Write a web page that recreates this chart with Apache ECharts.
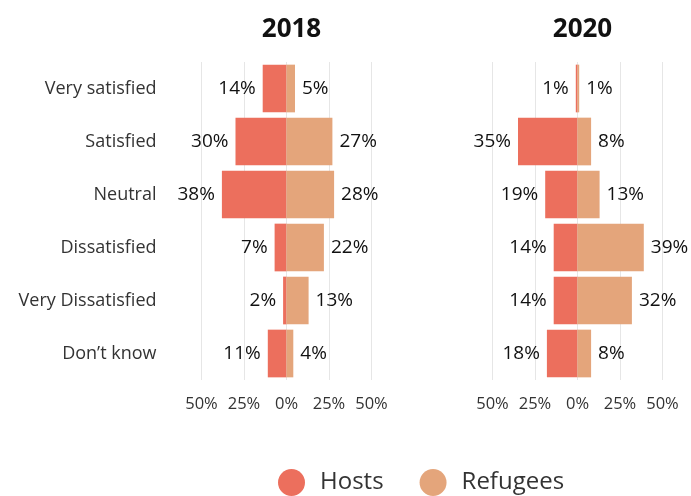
<!DOCTYPE html>
<html>
<head>
<meta charset="utf-8">
<script src="https://cdn.jsdelivr.net/npm/echarts@6/dist/echarts.min.js"></script>
<style>
html, body { margin: 0; padding: 0; background: #fff; }
#chart { width: 691px; height: 496px; }
</style>
</head>
<body>
<div id="chart"></div>
<script>
const categories = ['Very satisfied', 'Satisfied', 'Neutral', 'Dissatisfied', 'Very Dissatisfied', 'Don\u2019t know']
const years = ['2018', '2020']
const hosts2018 = [14, 30, 38, 7, 2, 11]
const refugees2018 = [5, 27, 28, 22, 13, 4]
const hosts2020 = [1, 35, 19, 14, 14, 18]
const refugees2020 = [1, 8, 13, 39, 32, 8]

const hostColor = '#EC6F5D'
const refColor = '#E4A57B'
const font = '"Open Sans", "Noto Sans", sans-serif'

const chart = echarts.init(document.getElementById('chart'))

const grids = [
    { left: 201.5, width: 170, top: 62, height: 318 },
    { left: 492.5, width: 170, top: 62, height: 318 },
]

const xAxisFor = (i) => ({
    type: 'value',
    gridIndex: i,
    min: -50,
    max: 50,
    interval: 25,
    axisLine: { show: false },
    axisTick: { show: false },
    splitLine: { show: true, lineStyle: { color: '#e6e6e6', width: 1 } },
    axisLabel: {
        color: '#333',
        fontSize: 16.5,
        fontFamily: font,
        margin: 16,
        formatter: (v) => Math.abs(v) + '%',
    },
})

const yAxisFor = (i) => ({
    type: 'category',
    gridIndex: i,
    inverse: true,
    data: categories,
    axisLine: { show: false },
    axisTick: { show: false },
    axisLabel: {
        show: i === 0,
        color: '#333',
        fontSize: 18,
        fontFamily: font,
        margin: 45,
    },
})

const barSeries = (name, data, i, color, side) => ({
    name: name,
    type: 'bar',
    xAxisIndex: i,
    yAxisIndex: i,
    stack: 'y' + i,
    barCategoryGap: '10%',
    itemStyle: { color: color },
    label: {
        show: true,
        position: side,
        distance: 7,
        color: '#111',
        fontSize: 19,
        fontFamily: font,
        formatter: (p) => Math.abs(p.value) + '%',
    },
    data: side === 'left' ? data.map((v) => -v) : data,
})

chart.setOption({
    backgroundColor: '#fff',
    animation: false,
    title: years.map((y, i) => ({
        text: y,
        left: grids[i].left + grids[i].width / 2,
        top: 12,
        textAlign: 'center',
        textStyle: { fontSize: 26, fontWeight: 'bold', color: '#111', fontFamily: font },
    })),
    legend: {
        top: 464,
        left: 273,
        icon: 'circle',
        itemWidth: 27,
        itemHeight: 27,
        itemGap: 36,
        textStyle: { fontSize: 24, color: '#333', fontFamily: font, padding: [0, 0, 0, 10] },
        data: ['Hosts', 'Refugees'],
    },
    grid: grids,
    xAxis: [xAxisFor(0), xAxisFor(1)],
    yAxis: [yAxisFor(0), yAxisFor(1)],
    series: [
        barSeries('Hosts', hosts2018, 0, hostColor, 'left'),
        barSeries('Refugees', refugees2018, 0, refColor, 'right'),
        barSeries('Hosts', hosts2020, 1, hostColor, 'left'),
        barSeries('Refugees', refugees2020, 1, refColor, 'right'),
    ],
})
</script>
</body>
</html>
